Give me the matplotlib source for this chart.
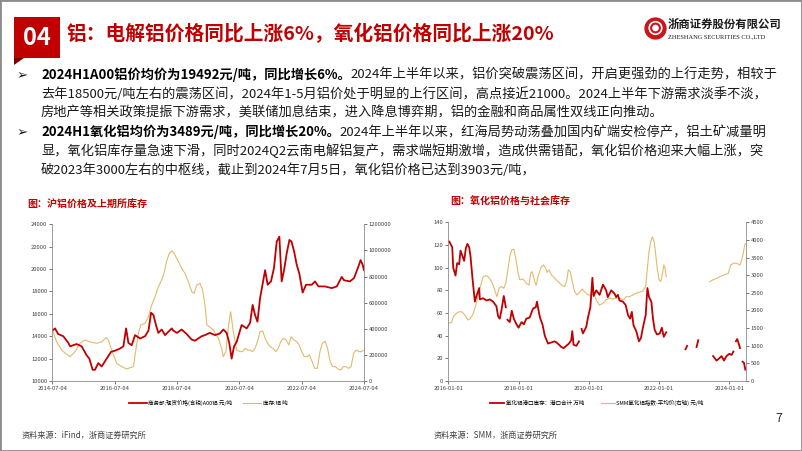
import matplotlib
matplotlib.use("Agg")
import matplotlib.pyplot as plt
from matplotlib.patches import Rectangle, Circle, Polygon
import numpy as np
import pandas as pd

plt.rcParams['font.family'] = ['Noto Sans CJK SC', 'DejaVu Sans']

RED = '#C00000'
TAN = '#E2BA6C'
GRAY = '#404040'

# 左图: 商务部现货价格(含税)A00铝, 元/吨
al_price_dates = ['2014-07-04', '2014-08-05', '2014-09-10', '2014-11-10', '2015-01-08', '2015-01-28',
                  '2015-03-07', '2015-04-15', '2015-06-13', '2015-08-10', '2015-09-11', '2015-10-20',
                  '2015-11-16', '2015-12-25', '2016-02-03', '2016-04-01', '2016-05-22', '2016-07-04',
                  '2016-09-05', '2016-10-14', '2016-11-15', '2016-12-12', '2017-01-20', '2017-02-28',
                  '2017-04-28', '2017-06-25', '2017-08-04', '2017-09-04', '2017-10-01', '2017-10-31',
                  '2017-11-28', '2018-01-06', '2018-02-15', '2018-05-04', '2018-05-22', '2018-07-04',
                  '2018-08-28', '2018-10-25', '2018-12-24', '2019-01-31', '2019-04-19', '2019-05-28',
                  '2019-07-25', '2019-09-23', '2019-11-20', '2019-12-29', '2020-02-06', '2020-03-08',
                  '2020-04-05', '2020-05-03', '2020-06-03', '2020-07-04', '2020-07-31', '2020-09-28',
                  '2020-11-07', '2020-12-07', '2021-01-04', '2021-02-01', '2021-03-04', '2021-05-02',
                  '2021-06-01', '2021-07-10', '2021-08-14', '2021-09-15', '2021-10-16', '2021-11-12',
                  '2021-12-10', '2022-01-10', '2022-02-11', '2022-03-08', '2022-04-09', '2022-05-07',
                  '2022-06-07', '2022-07-16', '2022-08-25', '2022-10-31', '2022-12-08', '2023-01-17',
                  '2023-04-04', '2023-06-22', '2023-08-20', '2023-10-17', '2023-11-13', '2024-01-22',
                  '2024-03-09', '2024-04-28', '2024-05-25', '2024-06-18', '2024-07-04']
al_price = [14500, 14700, 14200, 14000, 13400, 13100,
            13200, 13300, 13100, 12300, 12000, 11000,
            11000, 11600, 11300, 12000, 12600, 12700,
            12900, 13100, 14700, 13400, 13200, 14100,
            13800, 14000, 14500, 16100, 15900, 15000,
            14300, 14600, 14100, 14700, 14500, 14300,
            14600, 14200, 13700, 13600, 14000, 14100,
            14300, 14100, 14250, 14600, 14300, 13400,
            12000, 13100, 13500, 14300, 15000, 14700,
            15200, 16800, 15900, 15300, 17400, 19900,
            18600, 18900, 20100, 22450, 22900, 18900,
            19900, 21400, 22600, 22450, 21500, 20400,
            19600, 17900, 18600, 18600, 18900, 18450,
            18450, 18300, 18450, 19300, 19000, 18900,
            19200, 20200, 20800, 20400, 19900]

# 左图: 上期所库存:铝, 吨
al_stock_dates = ['2014-07-04', '2014-08-24', '2014-10-22', '2014-12-19', '2015-01-28', '2015-03-26',
                  '2015-05-24', '2015-07-22', '2015-09-19', '2015-12-06', '2016-02-03', '2016-03-24',
                  '2016-04-21', '2016-05-30', '2016-07-28', '2016-09-25', '2016-11-22', '2017-01-01',
                  '2017-02-10', '2017-02-28', '2017-04-08', '2017-05-05', '2017-06-25', '2017-08-04',
                  '2017-09-11', '2017-10-20', '2017-11-28', '2018-01-06', '2018-02-02', '2018-03-04',
                  '2018-04-05', '2018-05-04', '2018-05-31', '2018-07-01', '2018-08-01', '2018-08-28',
                  '2018-10-06', '2018-11-15', '2018-12-24', '2019-01-21', '2019-02-21', '2019-04-01',
                  '2019-05-01', '2019-05-28', '2019-06-20', '2019-09-04', '2019-11-01', '2019-12-10',
                  '2019-12-29', '2020-01-30', '2020-02-27', '2020-03-24', '2020-04-24', '2020-06-03',
                  '2020-07-12', '2020-08-12', '2020-09-09', '2020-10-10', '2020-11-07', '2020-12-07',
                  '2021-01-04', '2021-02-01', '2021-03-04', '2021-04-04', '2021-05-02', '2021-06-01',
                  '2021-07-01', '2021-08-04', '2021-09-04', '2021-10-04', '2021-11-01', '2021-12-01',
                  '2022-01-04', '2022-02-04', '2022-03-04', '2022-04-04', '2022-05-07', '2022-06-04',
                  '2022-07-04', '2022-08-04', '2022-09-04', '2022-10-04', '2022-11-04', '2022-12-04',
                  '2023-01-04', '2023-02-04', '2023-03-04', '2023-04-04', '2023-05-04', '2023-06-04',
                  '2023-07-04', '2023-08-04', '2023-09-04', '2023-10-04', '2023-11-04', '2023-12-04',
                  '2024-01-04', '2024-02-04', '2024-03-04', '2024-04-04', '2024-05-04', '2024-06-04',
                  '2024-07-04']
al_stock = [390000, 300000, 237000, 204000, 186000, 225000,
            288000, 314000, 300000, 288000, 300000, 332000,
            314000, 237000, 135000, 110000, 92000, 102000,
            110000, 199000, 365000, 429000, 442000, 493000,
            582000, 646000, 722000, 773000, 824000, 914000,
            978000, 996000, 978000, 939000, 901000, 863000,
            824000, 760000, 684000, 671000, 735000, 748000,
            697000, 582000, 430000, 390000, 327000, 250000,
            186000, 230000, 420000, 530000, 380000, 237000,
            225000, 225000, 250000, 237000, 237000, 225000,
            250000, 301000, 378000, 383000, 327000, 288000,
            263000, 250000, 225000, 250000, 301000, 327000,
            314000, 276000, 340000, 314000, 301000, 276000,
            225000, 186000, 186000, 199000, 148000, 97000,
            97000, 225000, 288000, 306000, 250000, 148000,
            110000, 110000, 92000, 84000, 110000, 110000,
            97000, 110000, 212000, 237000, 225000, 225000,
            237000]

# 右图: 氧化铝港口库存:港口合计, 万吨 (None = 缺数据)
port_dates = ['2016-01-11', '2016-02-11', '2016-02-21', '2016-03-16', '2016-04-02', '2016-04-23',
              '2016-05-07', '2016-05-28', '2016-06-14', '2016-07-01', '2016-07-18', '2016-08-05',
              '2016-08-19', '2016-09-09', '2016-10-03', '2016-10-20', '2016-11-17', '2016-11-24',
              '2016-12-29', '2017-02-02', '2017-03-07', '2017-04-11', '2017-05-15', '2017-06-02',
              '2017-06-19', '2017-07-06', '2017-07-31', '2017-08-21', '2017-08-30', '2017-09-07',
              '2017-10-01', '2017-10-22', '2017-11-12', '2017-12-10', '2017-12-31', '2018-02-01',
              '2018-02-25', '2018-03-22', '2018-04-26', '2018-05-31', '2018-06-28', '2018-07-11',
              '2018-08-01', '2018-08-15', '2018-09-06', '2018-09-30', '2018-11-03', '2018-12-08',
              '2019-01-12', '2019-01-29', '2019-02-26', '2019-03-20', '2019-04-14', '2019-05-11',
              '2019-06-08', '2019-07-02', '2019-07-13', '2019-07-26', '2019-08-24', '2019-09-21',
              '2019-10-05', '2019-10-18', '2019-11-01', '2019-11-19', '2019-12-06', '2019-12-23',
              '2020-01-17', '2020-02-07', '2020-02-20', '2020-03-18', '2020-04-22', '2020-05-27',
              '2020-06-29', '2020-07-16', '2020-08-21', '2020-09-25', '2020-10-11', '2020-10-29',
              '2020-11-15', '2020-12-21', '2021-01-18', '2021-02-12', '2021-03-06', '2021-03-23',
              '2021-04-10', '2021-05-08', '2021-06-05', '2021-06-26', '2021-07-16', '2021-08-14',
              '2021-09-01', '2021-09-18', '2021-10-12', '2021-10-29', '2021-11-16', '2021-12-10',
              '2022-01-08', '2022-01-29', '2022-02-18', '2022-03-16', '2022-06-01', '2022-10-02',
              '2022-10-19', '2022-12-01', '2023-01-25', '2023-02-12', '2023-05-01', '2023-07-16',
              '2023-08-03', '2023-08-21', '2023-09-18', '2023-10-12', '2023-11-06', '2023-12-03',
              '2024-01-01', '2024-01-25', '2024-02-12', '2024-02-25', '2024-03-09', '2024-03-23',
              '2024-04-07', '2024-04-21', '2024-05-05', '2024-05-18', '2024-06-01', '2024-06-15']
port_stock = [123, 118, 100, 93, 104, 103,
              115, 110, 106, 117, 121, 118,
              110, 90, 70, 75, 82, 72,
              73, 71, 72, 70, 66, 57,
              55, 62, 75, 65, None, 54,
              52, 62, 55, 50, 47, 52,
              50, 55, 56, 64, 65, 70,
              60, 55, 50, 40, 33, 34,
              35, 34, 32, 30, 29, 31,
              33, 36, 44, 32, 31, 35,
              None, 46, 42, 45, 48, 56,
              65, 91, 75, 80, 76, 85,
              80, 74, 80, 77, 74, 76,
              71, 70, 67, 58, 55, 61,
              49, 44, 35, 38, 47, 58,
              82, 74, 70, 55, 45, 41,
              42, 47, 39, 43, None, 28,
              31, None, 30, 36, None, 22,
              20, 18, 20, 22, 18, 22,
              24, 23, 26, None, 35, 37,
              33, 29, None, 17, 16, 10]

# 右图: SMM氧化铝指数-平均价(右轴), 元/吨
alumina_dates = ['2016-01-01', '2016-02-05', '2016-02-21', '2016-03-26', '2016-04-30', '2016-05-28',
                 '2016-07-01', '2016-07-25', '2016-08-12', '2016-09-09', '2016-10-03', '2016-10-27',
                 '2016-11-24', '2016-12-29', '2017-02-02', '2017-03-07', '2017-04-11', '2017-05-08',
                 '2017-05-22', '2017-06-12', '2017-07-06', '2017-07-31', '2017-08-21', '2017-09-14',
                 '2017-10-01', '2017-10-22', '2017-11-12', '2017-12-03', '2017-12-27', '2018-01-14',
                 '2018-02-17', '2018-03-22', '2018-04-19', '2018-05-06', '2018-05-23', '2018-06-17',
                 '2018-07-04', '2018-07-21', '2018-08-25', '2018-09-18', '2018-10-09', '2018-10-23',
                 '2018-11-13', '2018-12-08', '2019-01-12', '2019-02-15', '2019-03-31', '2019-04-24',
                 '2019-05-18', '2019-06-01', '2019-06-22', '2019-07-13', '2019-08-06', '2019-08-31',
                 '2019-09-28', '2019-10-25', '2019-11-19', '2019-12-23', '2020-01-27', '2020-02-20',
                 '2020-03-18', '2020-04-21', '2020-05-25', '2020-06-29', '2020-08-03', '2020-09-07',
                 '2020-10-11', '2020-11-15', '2020-12-21', '2021-01-25', '2021-02-27', '2021-04-03',
                 '2021-05-08', '2021-06-12', '2021-07-16', '2021-08-14', '2021-09-01', '2021-09-18',
                 '2021-10-05', '2021-10-23', '2021-11-10', '2021-11-27', '2021-12-14', '2022-01-01',
                 '2022-01-18', '2022-02-05', '2022-02-18', '2022-03-03', '2022-03-16', '2022-10-01',
                 '2023-06-12', '2023-07-16', '2023-08-21', '2023-09-25', '2023-11-06', '2023-12-21',
                 '2024-01-15', '2024-02-12', '2024-03-16', '2024-04-21', '2024-05-18', '2024-06-09',
                 '2024-06-19']
alumina_price = [1640, 1660, 1820, 1920, 1970, 1950,
                 1830, 1730, 1760, 1870, 2060, 2300,
                 2630, 2960, 2990, 2910, 2720, 2490,
                 2390, 2630, 2680, 2630, 2770, 3200,
                 3530, 3720, 3730, 3480, 3050, 2870,
                 2890, 2770, 2720, 3050, 3100, 2820,
                 2720, 2960, 3240, 3290, 3200, 3080,
                 3150, 3010, 2910, 2820, 2700, 2680,
                 2870, 3150, 3100, 2820, 2530, 2440,
                 2520, 2610, 2530, 2440, 2440, 2490,
                 2300, 2150, 2200, 2300, 2350, 2320,
                 2350, 2350, 2300, 2390, 2390, 2440,
                 2490, 2520, 2550, 2680, 3200, 3670,
                 3950, 4090, 3950, 3570, 3150, 2870,
                 2820, 3050, 3290, 3200, 2960, None,
                 2820, 2870, 2910, 2960, 3010, 3050,
                 3290, 3340, 3340, 3290, 3530, 3860,
                 3900]

left_yticks = [10000, 12000, 14000, 16000, 18000, 20000, 22000, 24000]
left_y2ticks = [0, 200000, 400000, 600000, 800000, 1000000, 1200000]
left_xticks = ['2014-07-04', '2016-07-04', '2018-07-04', '2020-07-04', '2022-07-04', '2024-07-04']
right_yticks = [0, 20, 40, 60, 80, 100, 120, 140]
right_y2ticks = [0, 500, 1000, 1500, 2000, 2500, 3000, 3500, 4000, 4500]
right_xticks = ['2016-01-01', '2018-01-01', '2020-01-01', '2022-01-01', '2024-01-01']

W, H = 802, 451


def fx(x):
    return x / W


def fy(y):
    return 1 - y / H


def style_pair(ax, ax2, xticks, yticks, y2ticks):
    ax.set_zorder(ax2.get_zorder() + 1)
    ax.patch.set_visible(False)
    for a in (ax, ax2):
        for s in a.spines.values():
            s.set_color('#8c8c8c')
            s.set_linewidth(0.6)
        a.spines['top'].set_visible(False)
        a.tick_params(labelsize=4.2, colors=GRAY, length=2, width=0.5, pad=1.5)
    ax.spines['right'].set_visible(False)
    ax2.spines['left'].set_visible(False)
    ax2.spines['bottom'].set_visible(False)
    xt = pd.to_datetime(xticks)
    ax.set_xticks(xt)
    ax.set_xticklabels([d.strftime('%Y-%m-%d') for d in xt])
    ax.set_yticks(yticks)
    ax.set_yticklabels([str(v) for v in yticks])
    ax2.set_yticks(y2ticks)
    ax2.set_yticklabels([str(v) for v in y2ticks])
    ax.set_ylim(yticks[0], yticks[-1])
    ax2.set_ylim(y2ticks[0], y2ticks[-1])


fig = plt.figure(figsize=(W / 100, H / 100), dpi=100)
fig.patch.set_facecolor('white')

# ---- 左图 ----
axL = fig.add_axes([fx(52.3), fy(381), fx(364) - fx(52.3), fy(224.3) - fy(381)])
axL2 = axL.twinx()
l1, = axL.plot(pd.to_datetime(al_price_dates), np.array(al_price, dtype=float), color=RED, lw=1.3)
l2, = axL2.plot(pd.to_datetime(al_stock_dates), np.array(al_stock, dtype=float), color=TAN, lw=0.8)
style_pair(axL, axL2, left_xticks, left_yticks, left_y2ticks)
axL.set_xlim(pd.Timestamp('2014-07-04'), pd.Timestamp('2024-07-04'))
axL.legend([l1, l2], ['商务部:现货价格(含税)A00铝 元/吨', '库存:铝 吨'], loc='center',
           bbox_to_anchor=(0.5, -0.138), ncol=2, frameon=False, fontsize=4,
           handlelength=3.2, handletextpad=0.3, columnspacing=2.0)

# ---- 右图 ----
axR = fig.add_axes([fx(448.3), fy(381), fx(745.7) - fx(448.3), fy(222.3) - fy(381)])
axR2 = axR.twinx()
r1, = axR.plot(pd.to_datetime(port_dates), np.array(port_stock, dtype=float), color=RED, lw=1.3)
r2, = axR2.plot(pd.to_datetime(alumina_dates), np.array(alumina_price, dtype=float), color=TAN, lw=0.8)
style_pair(axR, axR2, right_xticks, right_yticks, right_y2ticks)
axR.set_xlim(pd.Timestamp('2016-01-01'), pd.Timestamp('2024-06-19'))
axR.legend([r1, r2], ['氧化铝港口库存：港口合计 万吨', 'SMM氧化铝指数-平均价(右轴) 元/吨'], loc='center',
           bbox_to_anchor=(0.5, -0.138), ncol=2, frameon=False, fontsize=4,
           handlelength=2.5, handletextpad=0.3, columnspacing=3.0)

# ---- 页眉 ----
fig.patches.append(Rectangle((fx(14), fy(58)), fx(60) - fx(14), fy(17) - fy(58),
                             transform=fig.transFigure, facecolor=RED, edgecolor='none'))
fig.patches.append(Polygon([(fx(14), fy(58)), (fx(24), fy(58)), (fx(14), fy(65))],
                           closed=True, transform=fig.transFigure, facecolor='#7a0000', edgecolor='none'))
fig.text(fx(37), fy(38), '04', color='white', fontsize=17, fontweight='bold', ha='center', va='center')
fig.text(fx(67), fy(34), '铝：电解铝价格同比上涨6%，氧化铝价格同比上涨20%', color=RED,
         fontsize=14.2, fontweight='bold', va='center')

# logo
axLogo = fig.add_axes([fx(644), fy(40), fx(23), 23 / H])
axLogo.set_xlim(-1.1, 1.1)
axLogo.set_ylim(-1.1, 1.1)
axLogo.set_aspect('equal')
axLogo.axis('off')
axLogo.add_patch(Circle((0, 0), 1.0, color='#C8161D'))
axLogo.add_patch(Circle((0, 0.05), 0.6, fill=False, edgecolor='white', lw=1.2))
axLogo.add_patch(Circle((0, 0.05), 0.25, color='white'))
fig.text(fx(668), fy(24), '浙商证券股份有限公司', fontsize=8.2, fontweight='bold', color='#1a1a1a', va='center')
fig.text(fx(668), fy(37), 'ZHESHANG SECURITIES CO.,LTD', fontsize=4.6, family='Liberation Serif',
         color='#1a1a1a', va='center')

# ---- 正文 ----
fig.canvas.draw()
rend = fig.canvas.get_renderer()
body = [
    (74, '2024H1A00铝价均价为19492元/吨，同比增长6%。', '2024年上半年以来，铝价突破震荡区间，开启更强劲的上行走势，相较于', True),
    (93, '', '去年18500元/吨左右的震荡区间，2024年1-5月铝价处于明显的上行区间，高点接近21000。2024上半年下游需求淡季不淡，', False),
    (111.5, '', '房地产等相关政策提振下游需求，美联储加息结束，进入降息博弈期，铝的金融和商品属性双线正向推动。', False),
    (131, '2024H1氧化铝均价为3489元/吨，同比增长20%。', '2024年上半年以来，红海局势动荡叠加国内矿端安检停产，铝土矿减量明', True),
    (150, '', '显，氧化铝库存量急速下滑，同时2024Q2云南电解铝复产，需求端短期激增，造成供需错配，氧化铝价格迎来大幅上涨，突', False),
    (169, '', '破2023年3000左右的中枢线，截止到2024年7月5日，氧化铝价格已达到3903元/吨，', False),
]
for y, bold, normal, bullet in body:
    yb = fy(y + 5)
    x0 = fx(41)
    if bullet:
        fig.text(fx(17), yb, '➢', fontsize=9.5, family='DejaVu Sans', color='#1a1a1a', va='baseline')
    if bold:
        t = fig.text(x0, yb, bold, fontsize=9.5, fontweight='bold', color='black', va='baseline')
        x0 += t.get_window_extent(rend).width / W
    fig.text(x0, yb, normal, fontsize=9.5, color='#1a1a1a', va='baseline')

# ---- 图标题 / 来源 ----
fig.text(fx(27), fy(204.5), '图：沪铝价格及上期所库存', color=RED, fontsize=7.2, fontweight='bold', va='center')
fig.text(fx(450), fy(201.5), '图：氧化铝价格与社会库存', color=RED, fontsize=7.2, fontweight='bold', va='center')
fig.text(fx(22), fy(435), '资料来源：iFind，浙商证券研究所', color='#404040', fontsize=5.9, va='center')
fig.text(fx(434), fy(435), '资料来源：SMM，浙商证券研究所', color='#404040', fontsize=5.9, va='center')
fig.text(fx(779), fy(419), '7', color='#333333', fontsize=9, va='center', ha='center')

# 外框
fig.patches.append(Rectangle((0, 0), 1, 1, transform=fig.transFigure, fill=False,
                             edgecolor='#8c8c8c', lw=2))

fig.savefig('out.png', dpi=100)
